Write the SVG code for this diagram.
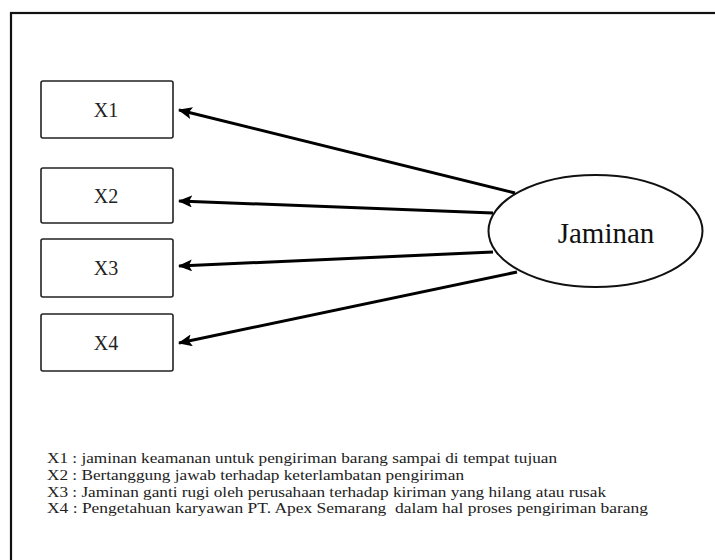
<svg xmlns="http://www.w3.org/2000/svg" width="715" height="560" viewBox="0 0 715 560">
  <style>
    .frame { fill: none; stroke: #111; stroke-width: 2.2; }
    .box { fill: #fff; stroke: #222; stroke-width: 1.6; }
    .lbl { font-family: "Liberation Serif", "Times New Roman", serif; font-size: 20px; fill: #222; text-anchor: middle; }
    .big { font-family: "Liberation Serif", "Times New Roman", serif; font-size: 29px; fill: #111; text-anchor: middle; }
    .legend { font-family: "Liberation Serif", "Times New Roman", serif; font-size: 15px; fill: #222; }
    .conn { fill: none; stroke: #000; stroke-width: 3; marker-end: url(#head); }
  </style>
  <defs>
    <marker id="head" viewBox="0 0 14 12" refX="13" refY="6" markerWidth="14" markerHeight="12" markerUnits="userSpaceOnUse" orient="auto">
      <path d="M0,0 L14,6 L0,12 L3,6 Z" fill="#000"/>
    </marker>
  </defs>

  <rect width="715" height="560" fill="#fff"/>
  <!-- outer frame: only the top and left edges fall inside the canvas -->
  <rect class="frame" x="11" y="13" width="720" height="570"/>

  <g id="connectors">
    <line class="conn" x1="515" y1="193" x2="179" y2="110"/>
    <line class="conn" x1="493" y1="213" x2="179" y2="201"/>
    <line class="conn" x1="493" y1="252" x2="179" y2="266"/>
    <line class="conn" x1="517" y1="272" x2="179" y2="343"/>
  </g>

  <g id="x1">
    <rect class="box" x="41" y="81" width="132" height="57" rx="2"/>
    <text class="lbl" x="106" y="117">X1</text>
  </g>
  <g id="x2">
    <rect class="box" x="41" y="168" width="132" height="55" rx="2"/>
    <text class="lbl" x="106" y="203">X2</text>
  </g>
  <g id="x3">
    <rect class="box" x="41" y="239" width="132" height="58" rx="2"/>
    <text class="lbl" x="106" y="275">X3</text>
  </g>
  <g id="x4">
    <rect class="box" x="41" y="314" width="132" height="57" rx="2"/>
    <text class="lbl" x="106" y="350">X4</text>
  </g>

  <g id="jaminan">
    <ellipse cx="595.5" cy="231" rx="107" ry="56" fill="#fff" stroke="#111" stroke-width="2"/>
    <text class="big" x="606" y="243">Jaminan</text>
  </g>

  <g id="legend">
    <text class="legend" x="47" y="463" textLength="510" lengthAdjust="spacingAndGlyphs">X1 : jaminan keamanan untuk pengiriman barang sampai di tempat tujuan</text>
    <text class="legend" x="47" y="480" textLength="417" lengthAdjust="spacingAndGlyphs">X2 : Bertanggung jawab terhadap keterlambatan pengiriman</text>
    <text class="legend" x="47" y="497" textLength="559" lengthAdjust="spacingAndGlyphs">X3 : Jaminan ganti rugi oleh perusahaan terhadap kiriman yang hilang atau rusak</text>
    <text class="legend" x="47" y="513" textLength="601" lengthAdjust="spacingAndGlyphs" xml:space="preserve">X4 : Pengetahuan karyawan PT. Apex Semarang  dalam hal proses pengiriman barang</text>
  </g>
</svg>
